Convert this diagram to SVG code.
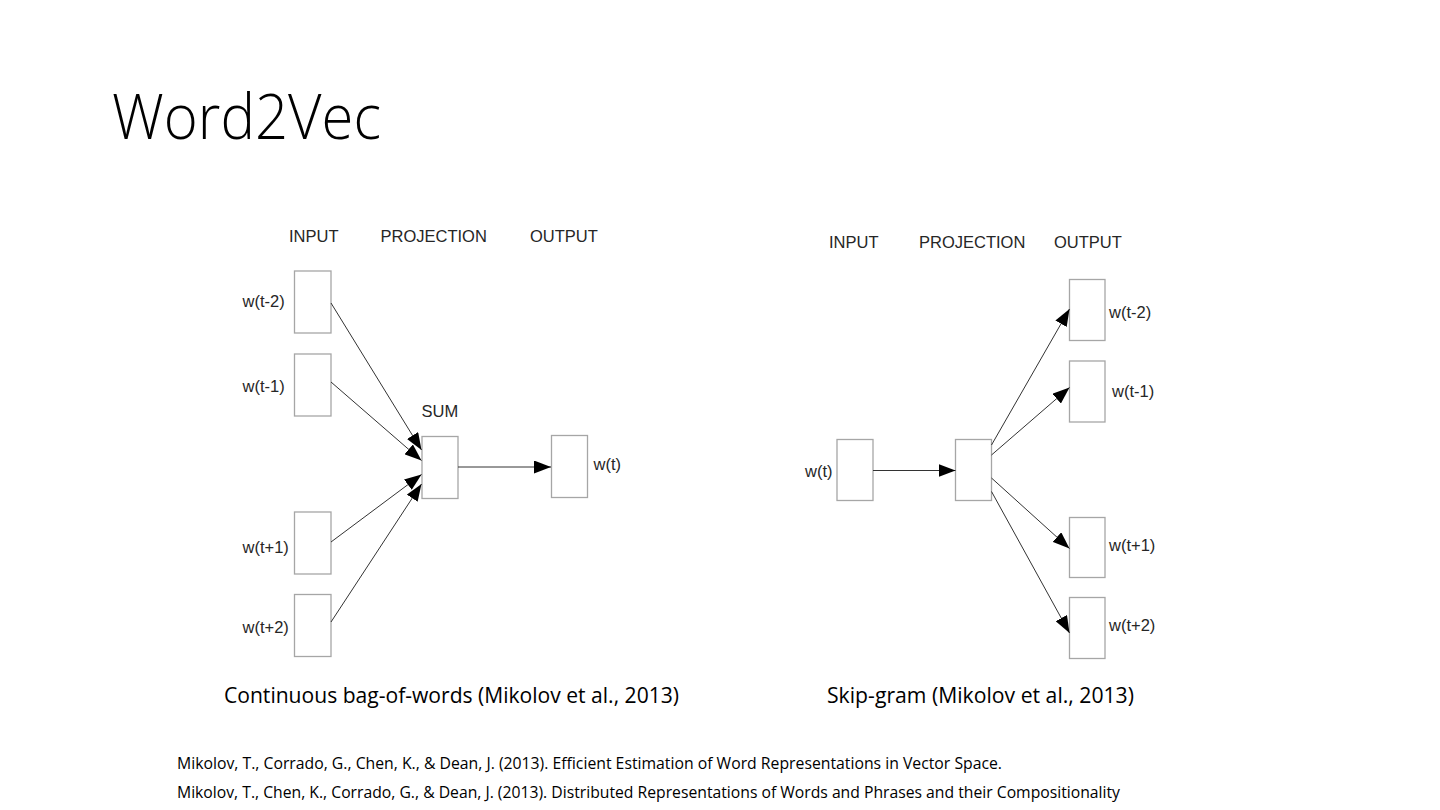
<svg xmlns="http://www.w3.org/2000/svg" width="1440" height="810" viewBox="0 0 1440 810">
<style>
.title{font-family:"Open Sans","Lato","Liberation Sans",sans-serif;font-weight:300;font-size:62px;fill:#000}
.cap{font-family:"Open Sans","Liberation Sans",sans-serif;font-size:22px;fill:#000}
.ref{font-family:"Open Sans","Liberation Sans",sans-serif;font-size:16.5px;fill:#000}
.lbl{font-family:"Liberation Sans",Arial,sans-serif;font-size:16.5px;fill:#262626}
.box{fill:#fff;stroke:#a6a6a6;stroke-width:1.3}
.edge{stroke:#333;stroke-width:1;fill:none;marker-end:url(#ah)}
</style>
<defs>
<marker id="ah" markerUnits="userSpaceOnUse" markerWidth="18" markerHeight="13" refX="17" refY="6.5" orient="auto">
<path d="M0,0 L17,6.5 L0,13 z" fill="#000"/>
</marker>
</defs>
<rect width="1440" height="810" fill="#fff"/>
<text class="title" x="112" y="139" textLength="269" lengthAdjust="spacingAndGlyphs">Word2Vec</text>

<g id="cbow-headers">
<text class="lbl" x="289" y="242">INPUT</text>
<text class="lbl" x="380.5" y="242">PROJECTION</text>
<text class="lbl" x="530" y="242">OUTPUT</text>
<text class="lbl" x="421.5" y="417">SUM</text>
</g>
<g id="cbow-in-t-2"><rect class="box" x="294.5" y="271" width="36.5" height="62"/><text class="lbl" x="242.5" y="307">w(t-2)</text></g>
<g id="cbow-in-t-1"><rect class="box" x="294.5" y="354" width="36.5" height="62"/><text class="lbl" x="242.5" y="392">w(t-1)</text></g>
<g id="cbow-in-t+1"><rect class="box" x="294.5" y="512" width="36.5" height="62"/><text class="lbl" x="242.5" y="553">w(t+1)</text></g>
<g id="cbow-in-t+2"><rect class="box" x="294.5" y="594.5" width="36.5" height="62"/><text class="lbl" x="242.5" y="633">w(t+2)</text></g>
<g id="cbow-sum"><rect class="box" x="422" y="436.5" width="36" height="62"/></g>
<g id="cbow-out"><rect class="box" x="551.5" y="435.5" width="36" height="62"/><text class="lbl" x="593.5" y="470">w(t)</text></g>

<g id="sg-headers">
<text class="lbl" x="829" y="247.5">INPUT</text>
<text class="lbl" x="919" y="247.5">PROJECTION</text>
<text class="lbl" x="1054" y="247.5">OUTPUT</text>
</g>
<g id="sg-in"><rect class="box" x="837" y="439.5" width="36" height="61"/><text class="lbl" x="805" y="477">w(t)</text></g>
<g id="sg-proj"><rect class="box" x="955.5" y="439.5" width="36" height="61"/></g>
<g id="sg-out-t-2"><rect class="box" x="1069.5" y="279.5" width="35.5" height="61"/><text class="lbl" x="1109" y="318">w(t-2)</text></g>
<g id="sg-out-t-1"><rect class="box" x="1069.5" y="361" width="35.5" height="61"/><text class="lbl" x="1112" y="397">w(t-1)</text></g>
<g id="sg-out-t+1"><rect class="box" x="1069.5" y="517.5" width="35.5" height="60"/><text class="lbl" x="1109" y="551">w(t+1)</text></g>
<g id="sg-out-t+2"><rect class="box" x="1069.5" y="597.5" width="35.5" height="61"/><text class="lbl" x="1109" y="631">w(t+2)</text></g>

<g id="connectors">
<line class="edge" x1="331" y1="303" x2="421.5" y2="450"/>
<line class="edge" x1="331" y1="382" x2="421.5" y2="460.5"/>
<line class="edge" x1="331" y1="542" x2="421.5" y2="474.5"/>
<line class="edge" x1="331" y1="622" x2="421.5" y2="484"/>
<line class="edge" x1="458" y1="467" x2="551" y2="467"/>
<line class="edge" x1="873" y1="470.5" x2="955.5" y2="470.5"/>
<line class="edge" x1="991.5" y1="445" x2="1069.5" y2="309"/>
<line class="edge" x1="991.5" y1="455" x2="1069.5" y2="387.5"/>
<line class="edge" x1="991.5" y1="478" x2="1069.5" y2="548.5"/>
<line class="edge" x1="991.5" y1="491.5" x2="1069.5" y2="633"/>
</g>

<text class="cap" x="224" y="703" textLength="455" lengthAdjust="spacingAndGlyphs">Continuous bag-of-words (Mikolov et al., 2013)</text>
<text class="cap" x="827" y="703" textLength="307" lengthAdjust="spacingAndGlyphs">Skip-gram (Mikolov et al., 2013)</text>
<text class="ref" x="177" y="769" textLength="825" lengthAdjust="spacingAndGlyphs">Mikolov, T., Corrado, G., Chen, K., &amp; Dean, J. (2013). Efficient Estimation of Word Representations in Vector Space.</text>
<text class="ref" x="177" y="798" textLength="943" lengthAdjust="spacingAndGlyphs">Mikolov, T., Chen, K., Corrado, G., &amp; Dean, J. (2013). Distributed Representations of Words and Phrases and their Compositionality</text>
</svg>
